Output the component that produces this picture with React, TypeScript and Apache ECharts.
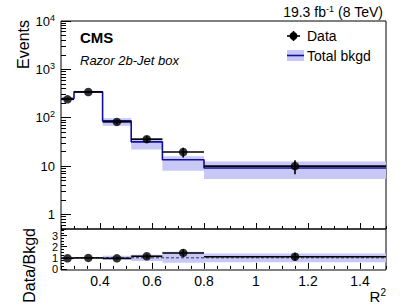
import React, { useEffect, useRef } from "react";
import * as echarts from "echarts";

const binEdges = [0.25, 0.3, 0.41, 0.52, 0.64, 0.8, 1.5];
const binCenters = [0.275, 0.355, 0.465, 0.58, 0.72, 1.15];
const dataCounts = [240, 340, 82, 36, 19.5, 10];
const dataErrors = [15.5, 18.4, 9.1, 6.0, 4.4, 3.2];
const bkgdTotal = [250, 345, 86, 31.7, 13.5, 9.1];
const bkgdLow = [238, 330, 68, 22, 8, 5.4];
const bkgdHigh = [262, 360, 98, 38, 16, 12.5];
const ratioValues = [0.96, 0.99, 0.95, 1.14, 1.44, 1.1];
const ratioErrors = [0.06, 0.05, 0.11, 0.19, 0.33, 0.35];
const ratioBandLow = [0.95, 0.96, 0.81, 0.71, 0.55, 0.6];
const ratioBandHigh = [1.05, 1.04, 1.19, 1.28, 1.55, 1.38];
const xMajorTicks = [0.4, 0.6, 0.8, 1.0, 1.2, 1.4];
const xLabelTexts = ["0.4", "0.6", "0.8", "1", "1.2", "1.4"];
const yMajorTicks = [1, 10, 100, 1000, 10000];
const ratioTicks = [0, 1, 2, 3];

const FONT = "'Liberation Sans', Arial, Helvetica, sans-serif";
const BAND = "#c8c8f7";
const BLUE = "#10109a";

function App() {
  const ref = useRef<HTMLDivElement>(null);
  useEffect(() => {
    if (!ref.current) return;
    const chart = echarts.init(ref.current, null, { renderer: "svg" });

    const xMinor: number[] = [];
    for (let i = 0; i <= 25; i++) {
      const v = Math.round((0.25 + i * 0.05) * 100) / 100;
      if (!xMajorTicks.some((m) => Math.abs(m - v) < 1e-6)) xMinor.push(v);
    }
    const yMinor: number[] = [];
    for (let e = -1; e < 4; e++) {
      for (let k = 2; k <= 9; k++) {
        const v = k * Math.pow(10, e);
        if (v >= 0.5) yMinor.push(Number(v.toPrecision(3)));
      }
    }
    const rMinor: number[] = [];
    for (let i = 0; i <= 14; i++) {
      const v = i * 0.25;
      if (v % 1 !== 0) rMinor.push(v);
    }

    const bandData = bkgdTotal.map((_, i) => [binEdges[i], binEdges[i + 1], bkgdLow[i], bkgdHigh[i]]);
    const rBandData = ratioValues.map((_, i) => [binEdges[i], binEdges[i + 1], ratioBandLow[i], ratioBandHigh[i]]);
    const stepData = bkgdTotal.map((v, i) => [binEdges[i], v]);
    stepData.push([binEdges[binEdges.length - 1], bkgdTotal[bkgdTotal.length - 1]]);
    const errData = dataCounts.map((v, i) => [binEdges[i], binEdges[i + 1], binCenters[i], v, dataErrors[i]]);
    const rErrData = ratioValues.map((v, i) => [binEdges[i], binEdges[i + 1], binCenters[i], v, ratioErrors[i]]);

    const bandRender = (params: any, api: any) => {
      const p0 = api.coord([api.value(0), api.value(3)]);
      const p1 = api.coord([api.value(1), api.value(2)]);
      return {
        type: "rect",
        shape: { x: p0[0], y: p0[1], width: p1[0] - p0[0], height: p1[1] - p0[1] },
        style: { fill: BAND },
      };
    };
    const errRender = (params: any, api: any) => {
      const x0 = api.value(0), x1 = api.value(1), xc = api.value(2), y = api.value(3), e = api.value(4);
      const a = api.coord([x0, y]);
      const b = api.coord([x1, y]);
      const t = api.coord([xc, y + e]);
      const d = api.coord([xc, y - e]);
      return {
        type: "group",
        children: [
          { type: "line", shape: { x1: a[0], y1: a[1], x2: b[0], y2: b[1] }, style: { stroke: "#000", lineWidth: 1.6 } },
          { type: "line", shape: { x1: t[0], y1: t[1], x2: d[0], y2: d[1] }, style: { stroke: "#000", lineWidth: 1.6 } },
        ],
      };
    };

    const xAxisBase = (grid: number, ticks: number[], len: number, labels: boolean) => ({
      type: "value",
      gridIndex: grid,
      min: 0.25,
      max: 1.5,
      position: "bottom",
      axisLine: { show: false },
      splitLine: { show: false },
      axisTick: { show: true, inside: true, length: len, customValues: ticks, lineStyle: { color: "#000", width: 1 } },
      axisLabel: labels
        ? {
            show: true,
            customValues: xMajorTicks,
            margin: 4,
            fontSize: 14,
            fontFamily: FONT,
            color: "#000",
            formatter: (v: number) => {
              const idx = xMajorTicks.findIndex((m) => Math.abs(m - v) < 1e-6);
              return idx >= 0 ? xLabelTexts[idx] : "";
            },
          }
        : { show: false },
    });

    const option: any = {
      animation: false,
      grid: [
        { left: 61, top: 21, width: 325, height: 208, show: true, borderColor: "#000", borderWidth: 1, backgroundColor: "transparent" },
        { left: 61, top: 229, width: 325, height: 41, show: true, borderColor: "#000", borderWidth: 1, backgroundColor: "transparent" },
      ],
      xAxis: [
        xAxisBase(0, xMajorTicks, 6, false),
        xAxisBase(0, xMinor, 3, false),
        xAxisBase(1, xMajorTicks, 6, true),
        xAxisBase(1, xMinor, 3, false),
      ],
      yAxis: [
        {
          type: "log",
          gridIndex: 0,
          min: 0.5,
          max: 10000,
          position: "left",
          axisLine: { show: false },
          splitLine: { show: false },
          axisTick: { show: true, inside: true, length: 10, customValues: yMajorTicks, lineStyle: { color: "#000" } },
          axisLabel: {
            show: true,
            customValues: yMajorTicks,
            margin: 6,
            color: "#000",
            fontFamily: FONT,
            fontSize: 13,
            formatter: (v: number) => {
              if (v < 100) return "{b|" + String(Math.round(v)) + "}";
              return "{b|10}{s|" + String(Math.round(Math.log10(v))) + "}";
            },
            rich: {
              b: { fontSize: 13, fontFamily: FONT, color: "#000", lineHeight: 16 },
              s: { fontSize: 9, fontFamily: FONT, color: "#000", verticalAlign: "top", lineHeight: 16, padding: [0, 0, 6, 0] },
            },
          },
        },
        {
          type: "log",
          gridIndex: 0,
          min: 0.5,
          max: 10000,
          position: "left",
          axisLine: { show: false },
          splitLine: { show: false },
          axisTick: { show: true, inside: true, length: 5, customValues: yMinor, lineStyle: { color: "#000" } },
          axisLabel: { show: false },
        },
        {
          type: "value",
          gridIndex: 1,
          min: -0.1,
          max: 3.6,
          position: "left",
          axisLine: { show: false },
          splitLine: { show: false },
          axisTick: { show: true, inside: true, length: 6, customValues: ratioTicks, lineStyle: { color: "#000" } },
          axisLabel: {
            show: true,
            customValues: ratioTicks,
            margin: 3,
            color: "#000",
            fontFamily: FONT,
            fontSize: 11,
            formatter: (v: number) => String(Math.round(v)),
          },
        },
        {
          type: "value",
          gridIndex: 1,
          min: -0.1,
          max: 3.6,
          position: "left",
          axisLine: { show: false },
          splitLine: { show: false },
          axisTick: { show: true, inside: true, length: 3, customValues: rMinor, lineStyle: { color: "#000" } },
          axisLabel: { show: false },
        },
      ],
      series: [
        { type: "custom", xAxisIndex: 0, yAxisIndex: 0, renderItem: bandRender, data: bandData, silent: true, z: 1 },
        {
          type: "line",
          xAxisIndex: 0,
          yAxisIndex: 0,
          step: "end",
          data: stepData,
          showSymbol: false,
          lineStyle: { color: BLUE, width: 1.6 },
          z: 2,
        },
        { type: "custom", xAxisIndex: 0, yAxisIndex: 0, renderItem: errRender, data: errData, z: 3 },
        {
          type: "scatter",
          xAxisIndex: 0,
          yAxisIndex: 0,
          data: dataCounts.map((v, i) => [binCenters[i], v]),
          symbol: "circle",
          symbolSize: 8.5,
          itemStyle: { color: "#000" },
          z: 4,
        },
        { type: "custom", xAxisIndex: 2, yAxisIndex: 2, renderItem: bandRender, data: rBandData, silent: true, z: 1 },
        {
          type: "line",
          xAxisIndex: 2,
          yAxisIndex: 2,
          data: [[0.25, 1], [1.5, 1]],
          showSymbol: false,
          lineStyle: { color: "#333366", width: 1, type: [3, 2] },
          z: 2,
        },
        { type: "custom", xAxisIndex: 2, yAxisIndex: 2, renderItem: errRender, data: rErrData, z: 3 },
        {
          type: "scatter",
          xAxisIndex: 2,
          yAxisIndex: 2,
          data: ratioValues.map((v, i) => [binCenters[i], v]),
          symbol: "circle",
          symbolSize: 8.5,
          itemStyle: { color: "#000" },
          z: 4,
        },
      ],
      graphic: [
        {
          type: "text",
          x: 23,
          y: 20,
          rotation: Math.PI / 2,
          style: { text: "Events", fill: "#000", font: "16px " + FONT, align: "right", verticalAlign: "middle" },
        },
        {
          type: "text",
          x: 29,
          y: 228,
          rotation: Math.PI / 2,
          style: { text: "Data/Bkgd", fill: "#000", font: "16px " + FONT, align: "right", verticalAlign: "middle" },
        },
        {
          type: "text",
          x: 383,
          y: 12,
          style: {
            text: "{a|19.3 fb}{s|-1}{a| (8 TeV)}",
            align: "right",
            verticalAlign: "middle",
            rich: {
              a: { fontSize: 14, fontFamily: FONT, fill: "#000", color: "#000", lineHeight: 16 },
              s: { fontSize: 9, fontFamily: FONT, fill: "#000", color: "#000", verticalAlign: "top", lineHeight: 16, padding: [0, 0, 6, 0] },
            },
          },
        },
        {
          type: "text",
          x: 386,
          y: 296,
          style: {
            text: "{a|R}{s|2}",
            align: "right",
            verticalAlign: "middle",
            rich: {
              a: { fontSize: 15, fontFamily: FONT, fill: "#000", color: "#000", lineHeight: 17 },
              s: { fontSize: 10, fontFamily: FONT, fill: "#000", color: "#000", verticalAlign: "top", lineHeight: 17, padding: [0, 0, 6, 0] },
            },
          },
        },
        {
          type: "text",
          x: 80,
          y: 37,
          style: { text: "CMS", fill: "#000", font: "bold 15px " + FONT, align: "left", verticalAlign: "middle" },
        },
        {
          type: "text",
          x: 80,
          y: 60,
          style: { text: "Razor 2b-Jet box", fill: "#000", font: "italic 13px " + FONT, align: "left", verticalAlign: "middle" },
        },
        { type: "line", shape: { x1: 287, y1: 36, x2: 300, y2: 36 }, style: { stroke: "#000", lineWidth: 1.6 } },
        { type: "line", shape: { x1: 293.5, y1: 31, x2: 293.5, y2: 41 }, style: { stroke: "#000", lineWidth: 1.6 } },
        { type: "circle", shape: { cx: 293.5, cy: 36, r: 4 }, style: { fill: "#000" } },
        {
          type: "text",
          x: 307,
          y: 36,
          style: { text: "Data", fill: "#000", font: "14px " + FONT, align: "left", verticalAlign: "middle" },
        },
        { type: "rect", shape: { x: 287, y: 50, width: 17, height: 11 }, style: { fill: BAND } },
        { type: "line", shape: { x1: 287, y1: 55.5, x2: 304, y2: 55.5 }, style: { stroke: BLUE, lineWidth: 1.6 } },
        {
          type: "text",
          x: 307,
          y: 56,
          style: { text: "Total bkgd", fill: "#000", font: "14px " + FONT, align: "left", verticalAlign: "middle" },
        },
      ],
    };
    chart.setOption(option);
    return () => chart.dispose();
  }, []);
  return <div ref={ref} style={{ width: 407, height: 306, position: "absolute", left: 0, top: 0 }} />;
}

export default App;
